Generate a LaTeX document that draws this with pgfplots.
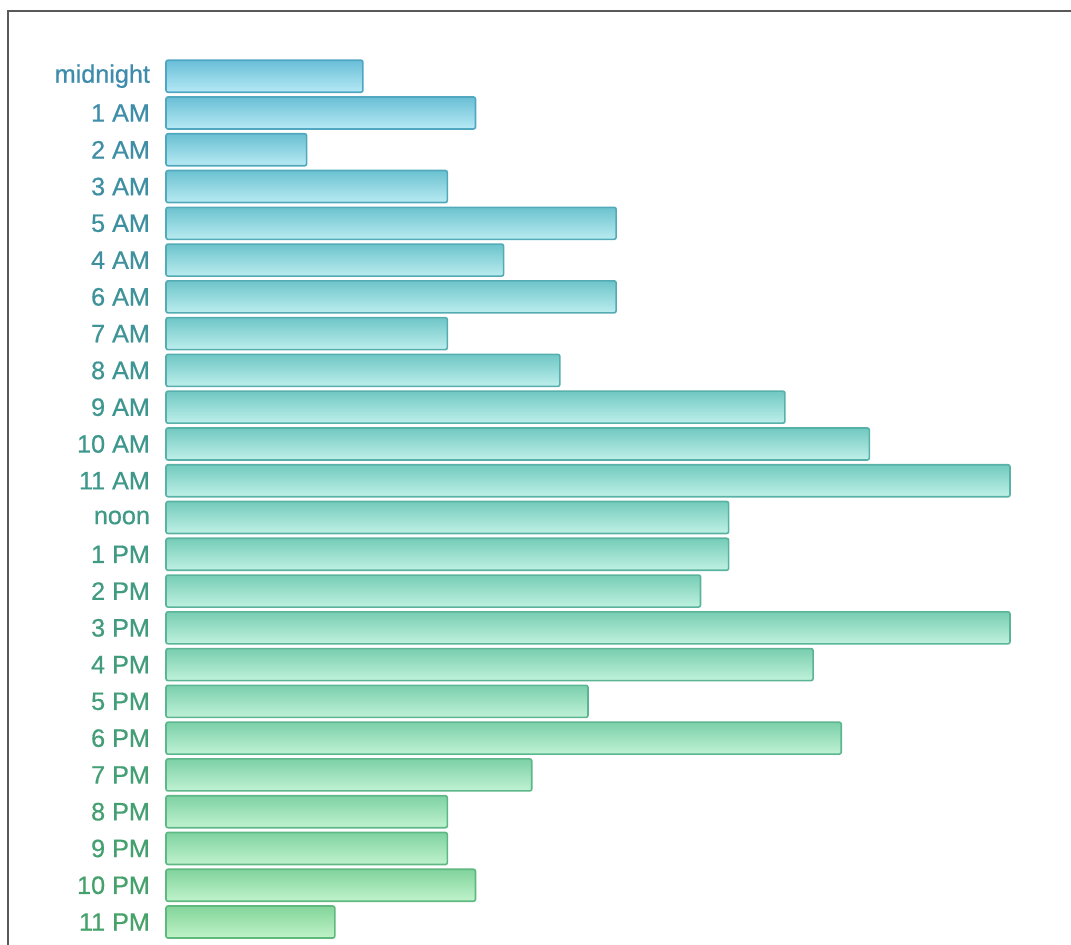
\documentclass[border=0pt]{standalone}
\usepackage{pgfplots}
\pgfplotsset{compat=1.18}
\usepackage{fontspec}
\setmainfont{Liberation Sans}
\newfontfamily\lblfont[FakeBold=0.6]{Liberation Sans}
\definecolor{topA}{RGB}{104,190,215}
\definecolor{botA}{RGB}{182,233,246}
\definecolor{brdA}{RGB}{80,165,195}
\definecolor{txtA}{RGB}{62,140,172}
\definecolor{topB}{RGB}{114,202,190}
\definecolor{botB}{RGB}{192,241,232}
\definecolor{brdB}{RGB}{88,178,165}
\definecolor{txtB}{RGB}{62,152,138}
\definecolor{topC}{RGB}{130,212,154}
\definecolor{botC}{RGB}{192,243,200}
\definecolor{brdC}{RGB}{95,185,125}
\definecolor{txtC}{RGB}{70,162,105}
% #1 = y index, #2 = value, #3 = first anchor, #4 = percent, #5 = second anchor
\newcommand{\hb}[5]{\addplot[xbar, bar width=16pt, bar shift=0pt, line width=0.8pt,
  rounded corners=1pt, draw={brd#3!#4!brd#5},
  top color={top#3!#4!top#5}, bottom color={bot#3!#4!bot#5}]
  coordinates {(#2,#1)};}
\newcommand{\tl}[4]{\textcolor{txt#1!#2!txt#3}{#4}}
\begin{document}
\begin{tikzpicture}
\path[use as bounding box] (0,0) rectangle (535.5pt,-472pt);
\draw[line width=0.8pt, black!65] (4pt,-480pt) -- (4pt,-5.5pt) -- (540pt,-5.5pt);
\begin{axis}[
  at={(83pt,-470.2pt)}, anchor=south west,
  scale only axis, width=422pt, height=441.3pt,
  xmin=0, xmax=30, ymin=-0.5, ymax=23.5, y dir=reverse,
  axis line style={draw=none}, clip=false,
  xtick=\empty,
  ytick={0,...,23},
  yticklabels={
    \tl{A}{100}{B}{midnight},\tl{A}{91}{B}{1 AM},\tl{A}{82}{B}{2 AM},\tl{A}{73}{B}{3 AM},
    \tl{A}{64}{B}{5 AM},\tl{A}{55}{B}{4 AM},\tl{A}{45}{B}{6 AM},\tl{A}{36}{B}{7 AM},
    \tl{A}{27}{B}{8 AM},\tl{A}{18}{B}{9 AM},\tl{A}{9}{B}{10 AM},\tl{A}{0}{B}{11 AM},
    \tl{B}{92}{C}{noon},\tl{B}{83}{C}{1 PM},\tl{B}{75}{C}{2 PM},\tl{B}{67}{C}{3 PM},
    \tl{B}{58}{C}{4 PM},\tl{B}{50}{C}{5 PM},\tl{B}{42}{C}{6 PM},\tl{B}{33}{C}{7 PM},
    \tl{B}{25}{C}{8 PM},\tl{B}{17}{C}{9 PM},\tl{B}{8}{C}{10 PM},\tl{B}{0}{C}{11 PM}},
  yticklabel style={font=\lblfont\fontsize{12.6}{14}\selectfont, anchor=east, xshift=-4.5pt},
  major tick length=0pt, tick style={draw=none},
]
\hb{0}{7}{A}{100}{B}
\hb{1}{11}{A}{91}{B}
\hb{2}{5}{A}{82}{B}
\hb{3}{10}{A}{73}{B}
\hb{4}{16}{A}{64}{B}
\hb{5}{12}{A}{55}{B}
\hb{6}{16}{A}{45}{B}
\hb{7}{10}{A}{36}{B}
\hb{8}{14}{A}{27}{B}
\hb{9}{22}{A}{18}{B}
\hb{10}{25}{A}{9}{B}
\hb{11}{30}{A}{0}{B}
\hb{12}{20}{B}{92}{C}
\hb{13}{20}{B}{83}{C}
\hb{14}{19}{B}{75}{C}
\hb{15}{30}{B}{67}{C}
\hb{16}{23}{B}{58}{C}
\hb{17}{15}{B}{50}{C}
\hb{18}{24}{B}{42}{C}
\hb{19}{13}{B}{33}{C}
\hb{20}{10}{B}{25}{C}
\hb{21}{10}{B}{17}{C}
\hb{22}{11}{B}{8}{C}
\hb{23}{6}{B}{0}{C}
\end{axis}
\end{tikzpicture}
\end{document}
